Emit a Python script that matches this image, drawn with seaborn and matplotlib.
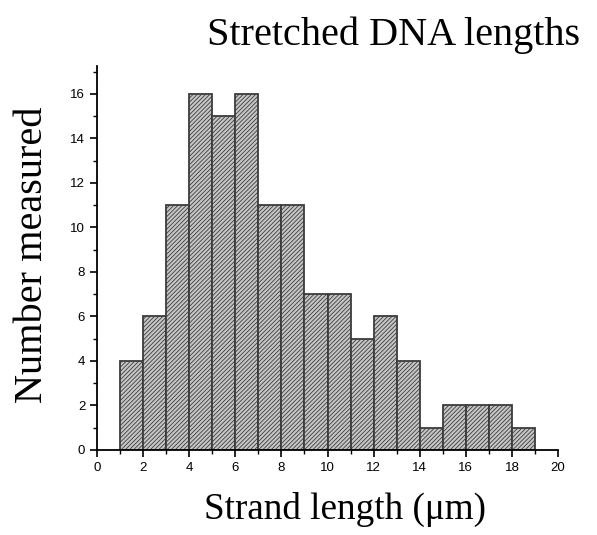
import numpy as np
import pandas as pd
import matplotlib
matplotlib.use("Agg")
import matplotlib.pyplot as plt
import seaborn as sns
from matplotlib.ticker import MultipleLocator

# Histogram of stretched DNA strand lengths (1 µm bins)
bin_edges = [1, 2, 3, 4, 5, 6, 7, 8, 9, 10, 11, 12, 13, 14, 15, 16, 17, 18, 19]
counts = [4, 6, 11, 16, 15, 16, 11, 11, 7, 7, 5, 6, 4, 1, 2, 2, 2, 1]
x_ticks = [0, 2, 4, 6, 8, 10, 12, 14, 16, 18, 20]
y_ticks = [0, 2, 4, 6, 8, 10, 12, 14, 16]

centers = [(a + b) / 2 for a, b in zip(bin_edges[:-1], bin_edges[1:])]
df = pd.DataFrame({"length": centers, "n": counts})

sns.set_style("ticks")
plt.rcParams["hatch.color"] = "#555555"
plt.rcParams["hatch.linewidth"] = 0.6

fig = plt.figure(figsize=(5.97, 5.35), dpi=100)
ax = fig.add_axes([0.1625, 0.159, 0.7722, 0.7176])

sns.histplot(data=df, x="length", weights="n", bins=bin_edges, ax=ax,
             color="#c6c6c6", edgecolor="#3c3c3c", linewidth=1.3, alpha=1.0)
for p in ax.patches:
    p.set_hatch("////////")

ax.set_xlim(0, 20)
ax.set_ylim(0, 17.25)
ax.set_xticks(x_ticks)
ax.set_yticks(y_ticks)
ax.xaxis.set_minor_locator(MultipleLocator(1))
ax.yaxis.set_minor_locator(MultipleLocator(1))
ax.tick_params(which="major", direction="out", length=5, width=1.2,
               labelsize=9.5, color="black", labelcolor="black")
ax.tick_params(which="minor", direction="out", length=3, width=1.0,
               color="black")
for lbl in ax.get_xticklabels() + ax.get_yticklabels():
    lbl.set_fontfamily("Liberation Sans")

sns.despine(ax=ax)
for s in ("left", "bottom"):
    ax.spines[s].set_linewidth(1.3)
    ax.spines[s].set_color("black")

ax.set_xlabel("")
ax.set_ylabel("")
serif = "Liberation Serif"
fig.text(0.659, 0.916, "Stretched DNA lengths", ha="center", va="baseline",
         fontsize=29, family=serif, color="black")
fig.text(0.578, 0.030, "Strand length (μm)", ha="center", va="baseline",
         fontsize=26.7, family=serif, color="black")
fig.text(0.055, 0.523, "Number measured", ha="center", va="center",
         rotation=90, fontsize=29, family=serif, color="black")

fig.savefig("out.png", dpi=100)
